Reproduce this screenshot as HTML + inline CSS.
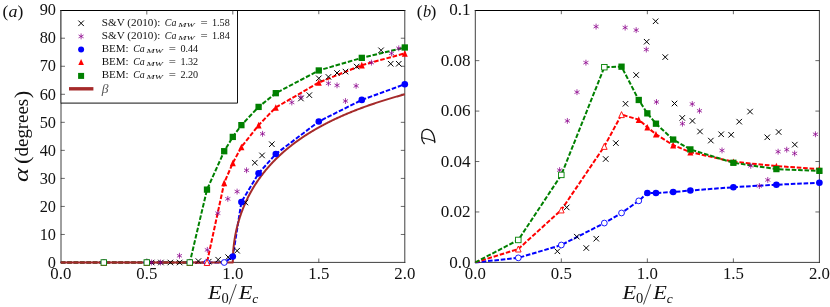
<!DOCTYPE html>
<html><head><meta charset="utf-8"><title>chart</title>
<style>html,body{margin:0;padding:0;background:#fff}body{width:830px;height:307px;overflow:hidden;font-family:"Liberation Serif",serif}</style>
</head><body>
<svg width="830" height="307" viewBox="0 0 830 307" style="display:block;will-change:transform">
<rect width="830" height="307" fill="#fff"/>
<path d="M146.80 262.5v-4M146.80 10.2v4M232.80 262.5v-4M232.80 10.2v4M318.80 262.5v-4M318.80 10.2v4M60.8 234.47h4M404.8 234.47h-4M60.8 206.43h4M404.8 206.43h-4M60.8 178.40h4M404.8 178.40h-4M60.8 150.37h4M404.8 150.37h-4M60.8 122.33h4M404.8 122.33h-4M60.8 94.30h4M404.8 94.30h-4M60.8 66.27h4M404.8 66.27h-4M60.8 38.23h4M404.8 38.23h-4" stroke="#2a2a2a" stroke-width="0.7" fill="none"/>
<path d="M561.33 262.4v-4M561.33 10.2v4M647.35 262.4v-4M647.35 10.2v4M733.38 262.4v-4M733.38 10.2v4M475.3 211.96h4M819.4 211.96h-4M475.3 161.52h4M819.4 161.52h-4M475.3 111.08h4M819.4 111.08h-4M475.3 60.64h4M819.4 60.64h-4" stroke="#2a2a2a" stroke-width="0.7" fill="none"/>
<path d="M60.5 10.5H405.3" stroke="#000" stroke-width="1"/>
<path d="M60.5 262.4H405.3" stroke="#2a2a2a" stroke-width="0.9"/>
<path d="M61.0 10V262.9" stroke="#2a2a2a" stroke-width="0.9"/>
<path d="M404.8 10V262.9" stroke="#2a2a2a" stroke-width="0.9"/>
<path d="M474.8 10.5H819.9" stroke="#000" stroke-width="1"/>
<path d="M474.8 262.4H819.9" stroke="#2a2a2a" stroke-width="0.9"/>
<path d="M475.3 10V262.9" stroke="#2a2a2a" stroke-width="0.9"/>
<path d="M819.4 10V262.9" stroke="#2a2a2a" stroke-width="0.9"/>
<polyline points="60.80,262.50 103.80,262.50 146.80,262.50 189.80,262.50 207.00,262.50 224.20,262.50 232.80,256.61 241.40,201.95 258.60,173.35 275.80,154.01 318.80,121.49 361.80,99.91 404.80,84.21" fill="none" stroke="#0000ff" stroke-width="2.0" stroke-dasharray="4.6 1.8"/>
<polyline points="60.80,262.50 103.80,262.50 146.80,262.50 189.80,262.50 207.00,262.50 224.20,182.89 232.80,162.98 241.40,147.00 258.60,125.14 275.80,107.48 318.80,82.53 361.80,65.15 404.80,53.37" fill="none" stroke="#ff0000" stroke-width="2.0" stroke-dasharray="4.6 1.8"/>
<polyline points="60.80,262.50 103.80,262.50 146.80,262.50 189.80,262.50 207.00,189.61 224.20,151.21 232.80,136.91 241.40,125.14 258.60,106.91 275.80,93.18 318.80,70.47 361.80,57.86 404.80,47.48" fill="none" stroke="#008000" stroke-width="2.0" stroke-dasharray="4.6 1.8"/>
<polyline points="475.30,262.40 518.31,257.86 561.33,245.00 604.34,223.06 621.54,212.97 638.75,200.86 647.35,193.04 655.95,193.04 673.16,192.04 690.36,190.52 733.38,187.24 776.39,184.72 819.40,182.70" fill="none" stroke="#0000ff" stroke-width="2.0" stroke-dasharray="4.6 1.8"/>
<polyline points="475.30,262.40 518.31,249.03 561.33,209.94 604.34,146.39 621.54,114.61 638.75,119.65 647.35,127.22 655.95,134.28 673.16,145.13 690.36,152.19 733.38,161.77 776.39,166.06 819.40,169.09" fill="none" stroke="#ff0000" stroke-width="2.0" stroke-dasharray="4.6 1.8"/>
<polyline points="475.30,262.40 518.31,239.95 561.33,174.89 604.34,67.20 621.54,66.69 638.75,99.98 647.35,113.35 655.95,123.69 673.16,139.58 690.36,149.41 733.38,162.78 776.39,169.09 819.40,170.85" fill="none" stroke="#008000" stroke-width="2.0" stroke-dasharray="4.6 1.8"/>
<polyline points="60.80,262.50 232.80,262.50 232.80,261.93 232.80,261.36 232.81,260.80 232.82,260.23 232.83,259.66 232.84,259.09 232.85,258.53 232.87,257.96 232.89,257.39 232.91,256.82 232.93,256.26 232.95,255.69 232.98,255.12 233.01,254.55 233.04,253.99 233.08,253.42 233.11,252.85 233.15,252.29 233.19,251.72 233.23,251.15 233.27,250.59 233.32,250.02 233.37,249.46 233.42,248.89 233.47,248.33 233.53,247.76 233.58,247.20 233.64,246.63 233.70,246.07 233.77,245.50 233.83,244.94 233.90,244.38 233.97,243.81 234.04,243.25 234.12,242.69 234.19,242.13 234.27,241.56 234.35,241.00 234.44,240.44 234.52,239.88 234.61,239.32 234.70,238.76 234.79,238.20 234.88,237.64 234.98,237.08 235.07,236.52 235.17,235.96 235.28,235.40 235.38,234.85 235.49,234.29 235.60,233.73 235.71,233.18 235.82,232.62 235.93,232.06 236.05,231.51 236.17,230.96 236.29,230.40 236.42,229.85 236.54,229.29 236.67,228.74 236.80,228.19 236.93,227.64 237.07,227.09 237.20,226.54 237.34,225.99 237.48,225.44 237.63,224.89 237.77,224.34 237.92,223.79 238.07,223.25 238.22,222.70 238.37,222.15 238.53,221.61 238.69,221.06 238.85,220.52 239.01,219.98 239.17,219.43 239.34,218.89 239.51,218.35 239.68,217.81 239.85,217.27 240.03,216.73 240.21,216.19 240.39,215.65 240.57,215.11 240.75,214.58 240.94,214.04 241.12,213.50 241.32,212.97 241.51,212.44 241.70,211.90 241.90,211.37 242.10,210.84 242.30,210.31 242.50,209.78 242.71,209.25 242.91,208.72 243.12,208.19 243.34,207.66 243.55,207.13 243.77,206.61 243.98,206.08 244.20,205.56 244.43,205.04 244.65,204.51 244.88,203.99 245.11,203.47 245.34,202.95 245.57,202.43 245.81,201.91 246.05,201.39 246.28,200.88 246.53,200.36 246.77,199.84 247.02,199.33 247.27,198.82 247.52,198.30 247.77,197.79 248.02,197.28 248.28,196.77 248.54,196.26 248.80,195.75 249.06,195.25 249.33,194.74 249.60,194.23 249.87,193.73 250.14,193.23 250.41,192.72 250.69,192.22 250.97,191.72 251.25,191.22 251.53,190.72 251.82,190.22 252.10,189.73 252.39,189.23 252.68,188.73 252.98,188.24 253.27,187.75 253.57,187.25 253.87,186.76 254.17,186.27 254.48,185.78 254.78,185.29 255.09,184.80 255.40,184.32 255.71,183.83 256.03,183.35 256.35,182.86 256.67,182.38 256.99,181.90 257.31,181.42 257.64,180.94 257.96,180.46 258.29,179.98 258.63,179.51 258.96,179.03 259.30,178.56 259.64,178.08 259.98,177.61 260.32,177.14 260.67,176.67 261.01,176.20 261.36,175.73 261.71,175.26 262.07,174.80 262.42,174.33 262.78,173.87 263.14,173.40 263.50,172.94 263.87,172.48 264.23,172.02 264.60,171.56 264.97,171.10 265.35,170.64 265.72,170.19 266.10,169.73 266.48,169.28 266.86,168.83 267.24,168.38 267.63,167.93 268.02,167.48 268.41,167.03 268.80,166.58 269.20,166.13 269.59,165.69 269.99,165.24 270.39,164.80 270.79,164.36 271.20,163.92 271.61,163.48 272.02,163.04 272.43,162.60 272.84,162.17 273.26,161.73 273.68,161.30 274.10,160.86 274.52,160.43 274.94,160.00 275.37,159.57 275.80,159.14 276.23,158.71 276.66,158.29 277.10,157.86 277.54,157.44 277.98,157.01 278.42,156.59 278.86,156.17 279.31,155.75 279.76,155.33 280.21,154.91 280.66,154.50 281.11,154.08 281.57,153.67 282.03,153.25 282.49,152.84 282.96,152.43 283.42,152.02 283.89,151.61 284.36,151.20 284.83,150.79 285.30,150.39 285.78,149.98 286.26,149.58 286.74,149.18 287.22,148.78 287.71,148.38 288.19,147.98 288.68,147.58 289.17,147.18 289.67,146.79 290.16,146.39 290.66,146.00 291.16,145.61 291.66,145.21 292.17,144.82 292.67,144.43 293.18,144.05 293.69,143.66 294.21,143.27 294.72,142.89 295.24,142.50 295.76,142.12 296.28,141.74 296.80,141.36 297.33,140.98 297.85,140.60 298.38,140.22 298.92,139.85 299.45,139.47 299.99,139.10 300.53,138.73 301.07,138.35 301.61,137.98 302.15,137.61 302.70,137.24 303.25,136.88 303.80,136.51 304.36,136.14 304.91,135.78 305.47,135.42 306.03,135.05 306.59,134.69 307.16,134.33 307.72,133.97 308.29,133.62 308.86,133.26 309.44,132.90 310.01,132.55 310.59,132.20 311.17,131.84 311.75,131.49 312.33,131.14 312.92,130.79 313.51,130.44 314.10,130.10 314.69,129.75 315.28,129.40 315.88,129.06 316.48,128.72 317.08,128.38 317.68,128.03 318.29,127.69 318.90,127.36 319.51,127.02 320.12,126.68 320.73,126.34 321.35,126.01 321.96,125.68 322.59,125.34 323.21,125.01 323.83,124.68 324.46,124.35 325.09,124.02 325.72,123.69 326.35,123.37 326.99,123.04 327.62,122.72 328.26,122.39 328.91,122.07 329.55,121.75 330.20,121.43 330.84,121.11 331.49,120.79 332.15,120.47 332.80,120.16 333.46,119.84 334.12,119.53 334.78,119.21 335.44,118.90 336.11,118.59 336.78,118.28 337.44,117.97 338.12,117.66 338.79,117.35 339.47,117.05 340.15,116.74 340.83,116.43 341.51,116.13 342.19,115.83 342.88,115.53 343.57,115.23 344.26,114.93 344.95,114.63 345.65,114.33 346.35,114.03 347.05,113.74 347.75,113.44 348.45,113.15 349.16,112.85 349.87,112.56 350.58,112.27 351.29,111.98 352.01,111.69 352.72,111.40 353.44,111.11 354.16,110.83 354.89,110.54 355.61,110.26 356.34,109.97 357.07,109.69 357.80,109.41 358.54,109.13 359.27,108.84 360.01,108.57 360.75,108.29 361.49,108.01 362.24,107.73 362.99,107.46 363.74,107.18 364.49,106.91 365.24,106.64 366.00,106.36 366.75,106.09 367.51,105.82 368.28,105.55 369.04,105.28 369.81,105.02 370.58,104.75 371.35,104.48 372.12,104.22 372.90,103.95 373.67,103.69 374.45,103.43 375.23,103.17 376.02,102.90 376.80,102.64 377.59,102.39 378.38,102.13 379.17,101.87 379.97,101.61 380.76,101.36 381.56,101.10 382.36,100.85 383.17,100.60 383.97,100.34 384.78,100.09 385.59,99.84 386.40,99.59 387.21,99.34 388.03,99.09 388.85,98.85 389.67,98.60 390.49,98.35 391.32,98.11 392.14,97.87 392.97,97.62 393.80,97.38 394.63,97.14 395.47,96.90 396.31,96.66 397.15,96.42 397.99,96.18 398.83,95.94 399.68,95.70 400.53,95.47 401.38,95.23 402.23,95.00 403.08,94.77 403.94,94.53 404.80,94.30" fill="none" stroke="#a52a2a" stroke-width="2.0" stroke-linejoin="round"/>
<path d="M148.87 259.75L154.37 265.25M148.87 265.25L154.37 259.75" stroke="#000" stroke-width="1.0" fill="none"/>
<path d="M158.15 259.75L163.65 265.25M158.15 265.25L163.65 259.75" stroke="#000" stroke-width="1.0" fill="none"/>
<path d="M167.61 259.75L173.11 265.25M167.61 265.25L173.11 259.75" stroke="#000" stroke-width="1.0" fill="none"/>
<path d="M176.90 259.75L182.40 265.25M176.90 265.25L182.40 259.75" stroke="#000" stroke-width="1.0" fill="none"/>
<path d="M195.65 258.35L201.15 263.85M195.65 263.85L201.15 258.35" stroke="#000" stroke-width="1.0" fill="none"/>
<path d="M205.97 258.91L211.47 264.41M205.97 264.41L211.47 258.91" stroke="#000" stroke-width="1.0" fill="none"/>
<path d="M215.43 256.95L220.93 262.45M215.43 262.45L220.93 256.95" stroke="#000" stroke-width="1.0" fill="none"/>
<path d="M225.41 254.42L230.91 259.92M225.41 259.92L230.91 254.42" stroke="#000" stroke-width="1.0" fill="none"/>
<path d="M234.35 247.98L239.85 253.48M234.35 253.48L239.85 247.98" stroke="#000" stroke-width="1.0" fill="none"/>
<path d="M242.61 199.76L248.11 205.26M242.61 205.26L248.11 199.76" stroke="#000" stroke-width="1.0" fill="none"/>
<path d="M252.07 159.95L257.57 165.45M252.07 165.45L257.57 159.95" stroke="#000" stroke-width="1.0" fill="none"/>
<path d="M259.29 152.66L264.79 158.16M259.29 158.16L264.79 152.66" stroke="#000" stroke-width="1.0" fill="none"/>
<path d="M269.09 141.45L274.59 146.95M269.09 146.95L274.59 141.45" stroke="#000" stroke-width="1.0" fill="none"/>
<path d="M298.16 95.75L303.66 101.25M298.16 101.25L303.66 95.75" stroke="#000" stroke-width="1.0" fill="none"/>
<path d="M306.59 92.39L312.09 97.89M306.59 97.89L312.09 92.39" stroke="#000" stroke-width="1.0" fill="none"/>
<path d="M316.05 75.57L321.55 81.07M316.05 81.07L321.55 75.57" stroke="#000" stroke-width="1.0" fill="none"/>
<path d="M325.68 74.17L331.18 79.67M325.68 79.67L331.18 74.17" stroke="#000" stroke-width="1.0" fill="none"/>
<path d="M334.28 70.24L339.78 75.74M334.28 75.74L339.78 70.24" stroke="#000" stroke-width="1.0" fill="none"/>
<path d="M342.71 68.84L348.21 74.34M342.71 74.34L348.21 68.84" stroke="#000" stroke-width="1.0" fill="none"/>
<path d="M353.89 63.80L359.39 69.30M353.89 69.30L359.39 63.80" stroke="#000" stroke-width="1.0" fill="none"/>
<path d="M378.31 47.54L383.81 53.04M378.31 53.04L383.81 47.54" stroke="#000" stroke-width="1.0" fill="none"/>
<path d="M387.95 60.99L393.45 66.49M387.95 66.49L393.45 60.99" stroke="#000" stroke-width="1.0" fill="none"/>
<path d="M396.03 60.99L401.53 66.49M396.03 66.49L401.53 60.99" stroke="#000" stroke-width="1.0" fill="none"/>
<path d="M151.62 259.55L151.62 265.45M149.06 261.02L154.17 263.98M149.06 263.98L154.17 261.02" stroke="#8b008b" stroke-width="0.75" fill="none"/>
<path d="M160.56 259.55L160.56 265.45M158.01 261.02L163.11 263.98M158.01 263.98L163.11 261.02" stroke="#8b008b" stroke-width="0.75" fill="none"/>
<path d="M179.48 252.82L179.48 258.72M176.93 254.30L182.03 257.25M176.93 257.25L182.03 254.30" stroke="#8b008b" stroke-width="0.75" fill="none"/>
<path d="M207.34 246.94L207.34 252.83M204.79 248.41L209.90 251.36M204.79 251.36L209.90 248.41" stroke="#8b008b" stroke-width="0.75" fill="none"/>
<path d="M217.84 210.21L217.84 216.11M215.28 211.69L220.39 214.64M215.28 214.64L220.39 211.69" stroke="#8b008b" stroke-width="0.75" fill="none"/>
<path d="M227.81 195.91L227.81 201.81M225.26 197.39L230.37 200.34M225.26 200.34L230.37 197.39" stroke="#8b008b" stroke-width="0.75" fill="none"/>
<path d="M237.10 188.63L237.10 194.53M234.55 190.10L239.65 193.05M234.55 193.05L239.65 190.10" stroke="#8b008b" stroke-width="0.75" fill="none"/>
<path d="M246.56 167.32L246.56 173.22M244.01 168.80L249.11 171.75M244.01 171.75L249.11 168.80" stroke="#8b008b" stroke-width="0.75" fill="none"/>
<path d="M262.56 130.88L262.56 136.78M260.00 132.35L265.11 135.30M260.00 135.30L265.11 132.35" stroke="#8b008b" stroke-width="0.75" fill="none"/>
<path d="M291.80 99.48L291.80 105.38M289.24 100.95L294.35 103.90M289.24 103.90L294.35 100.95" stroke="#8b008b" stroke-width="0.75" fill="none"/>
<path d="M300.91 94.15L300.91 100.05M298.36 95.63L303.47 98.58M298.36 98.58L303.47 95.63" stroke="#8b008b" stroke-width="0.75" fill="none"/>
<path d="M328.43 80.42L328.43 86.32M325.88 81.89L330.99 84.84M325.88 84.84L330.99 81.89" stroke="#8b008b" stroke-width="0.75" fill="none"/>
<path d="M337.03 82.38L337.03 88.28M334.48 83.85L339.59 86.80M334.48 86.80L339.59 83.85" stroke="#8b008b" stroke-width="0.75" fill="none"/>
<path d="M345.46 98.08L345.46 103.98M342.91 99.55L348.01 102.50M342.91 102.50L348.01 99.55" stroke="#8b008b" stroke-width="0.75" fill="none"/>
<path d="M356.12 82.94L356.12 88.84M353.57 84.41L358.68 87.36M353.57 87.36L358.68 84.41" stroke="#8b008b" stroke-width="0.75" fill="none"/>
<path d="M371.43 59.67L371.43 65.57M368.88 61.15L373.99 64.10M368.88 64.10L373.99 61.15" stroke="#8b008b" stroke-width="0.75" fill="none"/>
<path d="M391.56 50.42L391.56 56.32M389.00 51.90L394.11 54.85M389.00 54.85L394.11 51.90" stroke="#8b008b" stroke-width="0.75" fill="none"/>
<path d="M398.78 45.38L398.78 51.28M396.23 46.85L401.33 49.80M396.23 49.80L401.33 46.85" stroke="#8b008b" stroke-width="0.75" fill="none"/>
<circle cx="103.80" cy="262.50" r="2.9" fill="#fff" stroke="#0000ff" stroke-width="0.9"/>
<circle cx="146.80" cy="262.50" r="2.9" fill="#fff" stroke="#0000ff" stroke-width="0.9"/>
<circle cx="189.80" cy="262.50" r="2.9" fill="#fff" stroke="#0000ff" stroke-width="0.9"/>
<circle cx="207.00" cy="262.50" r="2.9" fill="#fff" stroke="#0000ff" stroke-width="0.9"/>
<circle cx="224.20" cy="262.50" r="2.9" fill="#fff" stroke="#0000ff" stroke-width="0.9"/>
<circle cx="232.80" cy="256.61" r="3.3" fill="#0000ff"/>
<circle cx="241.40" cy="201.95" r="3.3" fill="#0000ff"/>
<circle cx="258.60" cy="173.35" r="3.3" fill="#0000ff"/>
<circle cx="275.80" cy="154.01" r="3.3" fill="#0000ff"/>
<circle cx="318.80" cy="121.49" r="3.3" fill="#0000ff"/>
<circle cx="361.80" cy="99.91" r="3.3" fill="#0000ff"/>
<circle cx="404.80" cy="84.21" r="3.3" fill="#0000ff"/>
<path d="M103.80 259.50L101.00 265.50L106.60 265.50Z" fill="#fff" stroke="#ff0000" stroke-width="0.9"/>
<path d="M146.80 259.50L144.00 265.50L149.60 265.50Z" fill="#fff" stroke="#ff0000" stroke-width="0.9"/>
<path d="M189.80 259.50L187.00 265.50L192.60 265.50Z" fill="#fff" stroke="#ff0000" stroke-width="0.9"/>
<path d="M207.00 259.50L204.20 265.50L209.80 265.50Z" fill="#fff" stroke="#ff0000" stroke-width="0.9"/>
<path d="M224.20 179.59L221.20 186.19L227.20 186.19Z" fill="#ff0000"/>
<path d="M232.80 159.68L229.80 166.28L235.80 166.28Z" fill="#ff0000"/>
<path d="M241.40 143.70L238.40 150.30L244.40 150.30Z" fill="#ff0000"/>
<path d="M258.60 121.84L255.60 128.44L261.60 128.44Z" fill="#ff0000"/>
<path d="M275.80 104.18L272.80 110.78L278.80 110.78Z" fill="#ff0000"/>
<path d="M318.80 79.23L315.80 85.83L321.80 85.83Z" fill="#ff0000"/>
<path d="M361.80 61.85L358.80 68.45L364.80 68.45Z" fill="#ff0000"/>
<path d="M404.80 50.07L401.80 56.67L407.80 56.67Z" fill="#ff0000"/>
<rect x="101.05" y="259.75" width="5.5" height="5.5" fill="#fff" stroke="#008000" stroke-width="0.9"/>
<rect x="144.05" y="259.75" width="5.5" height="5.5" fill="#fff" stroke="#008000" stroke-width="0.9"/>
<rect x="187.05" y="259.75" width="5.5" height="5.5" fill="#fff" stroke="#008000" stroke-width="0.9"/>
<rect x="203.85" y="186.46" width="6.3" height="6.3" fill="#008000"/>
<rect x="221.05" y="148.06" width="6.3" height="6.3" fill="#008000"/>
<rect x="229.65" y="133.76" width="6.3" height="6.3" fill="#008000"/>
<rect x="238.25" y="121.99" width="6.3" height="6.3" fill="#008000"/>
<rect x="255.45" y="103.76" width="6.3" height="6.3" fill="#008000"/>
<rect x="272.65" y="90.03" width="6.3" height="6.3" fill="#008000"/>
<rect x="315.65" y="67.32" width="6.3" height="6.3" fill="#008000"/>
<rect x="358.65" y="54.71" width="6.3" height="6.3" fill="#008000"/>
<rect x="401.65" y="44.33" width="6.3" height="6.3" fill="#008000"/>
<path d="M554.62 248.55L560.12 254.05M554.62 254.05L560.12 248.55" stroke="#000" stroke-width="1.0" fill="none"/>
<path d="M563.91 204.67L569.41 210.17M563.91 210.17L569.41 204.67" stroke="#000" stroke-width="1.0" fill="none"/>
<path d="M574.06 233.93L579.56 239.43M574.06 239.43L579.56 233.93" stroke="#000" stroke-width="1.0" fill="none"/>
<path d="M583.52 245.27L589.02 250.77M583.52 250.77L589.02 245.27" stroke="#000" stroke-width="1.0" fill="none"/>
<path d="M593.50 235.94L599.00 241.44M593.50 241.44L599.00 235.94" stroke="#000" stroke-width="1.0" fill="none"/>
<path d="M602.96 156.25L608.46 161.75M602.96 161.75L608.46 156.25" stroke="#000" stroke-width="1.0" fill="none"/>
<path d="M613.11 140.36L618.61 145.86M613.11 145.86L618.61 140.36" stroke="#000" stroke-width="1.0" fill="none"/>
<path d="M622.75 101.02L628.25 106.52M622.75 106.52L628.25 101.02" stroke="#000" stroke-width="1.0" fill="none"/>
<path d="M633.42 72.27L638.92 77.77M633.42 77.77L638.92 72.27" stroke="#000" stroke-width="1.0" fill="none"/>
<path d="M643.91 38.97L649.41 44.47M643.91 44.47L649.41 38.97" stroke="#000" stroke-width="1.0" fill="none"/>
<path d="M652.86 18.55L658.36 24.05M652.86 24.05L658.36 18.55" stroke="#000" stroke-width="1.0" fill="none"/>
<path d="M662.49 54.36L667.99 59.86M662.49 59.86L667.99 54.36" stroke="#000" stroke-width="1.0" fill="none"/>
<path d="M671.78 100.76L677.28 106.26M671.78 106.26L677.28 100.76" stroke="#000" stroke-width="1.0" fill="none"/>
<path d="M679.53 115.14L685.03 120.64M679.53 120.64L685.03 115.14" stroke="#000" stroke-width="1.0" fill="none"/>
<path d="M689.68 118.17L695.18 123.67M689.68 123.67L695.18 118.17" stroke="#000" stroke-width="1.0" fill="none"/>
<path d="M697.25 128.76L702.75 134.26M697.25 134.26L702.75 128.76" stroke="#000" stroke-width="1.0" fill="none"/>
<path d="M708.09 137.84L713.59 143.34M708.09 143.34L713.59 137.84" stroke="#000" stroke-width="1.0" fill="none"/>
<path d="M718.41 131.53L723.91 137.03M718.41 137.03L723.91 131.53" stroke="#000" stroke-width="1.0" fill="none"/>
<path d="M728.39 132.04L733.89 137.54M728.39 137.54L733.89 132.04" stroke="#000" stroke-width="1.0" fill="none"/>
<path d="M736.47 118.92L741.97 124.42M736.47 124.42L741.97 118.92" stroke="#000" stroke-width="1.0" fill="none"/>
<path d="M747.31 108.83L752.81 114.33M747.31 114.33L752.81 108.83" stroke="#000" stroke-width="1.0" fill="none"/>
<path d="M764.52 134.56L770.02 140.06M764.52 140.06L770.02 134.56" stroke="#000" stroke-width="1.0" fill="none"/>
<path d="M775.87 129.26L781.37 134.76M775.87 134.76L781.37 129.26" stroke="#000" stroke-width="1.0" fill="none"/>
<path d="M792.05 141.87L797.55 147.37M792.05 147.37L797.55 141.87" stroke="#000" stroke-width="1.0" fill="none"/>
<path d="M559.60 167.14L559.60 173.04M557.05 168.62L562.16 171.57M557.05 171.57L562.16 168.62" stroke="#8b008b" stroke-width="0.75" fill="none"/>
<path d="M567.35 117.97L567.35 123.87M564.79 119.44L569.90 122.39M564.79 122.39L569.90 119.44" stroke="#8b008b" stroke-width="0.75" fill="none"/>
<path d="M576.98 89.21L576.98 95.11M574.43 90.69L579.54 93.64M574.43 93.64L579.54 90.69" stroke="#8b008b" stroke-width="0.75" fill="none"/>
<path d="M585.93 59.71L585.93 65.61M583.37 61.18L588.48 64.13M583.37 64.13L588.48 61.18" stroke="#8b008b" stroke-width="0.75" fill="none"/>
<path d="M596.08 23.64L596.08 29.54M593.52 25.12L598.63 28.07M593.52 28.07L598.63 25.12" stroke="#8b008b" stroke-width="0.75" fill="none"/>
<path d="M625.16 24.65L625.16 30.55M622.60 26.13L627.71 29.08M622.60 29.08L627.71 26.13" stroke="#8b008b" stroke-width="0.75" fill="none"/>
<path d="M636.17 27.17L636.17 33.07M633.61 28.65L638.72 31.60M633.61 31.60L638.72 28.65" stroke="#8b008b" stroke-width="0.75" fill="none"/>
<path d="M646.32 46.59L646.32 52.49M643.76 48.07L648.87 51.02M643.76 51.02L648.87 48.07" stroke="#8b008b" stroke-width="0.75" fill="none"/>
<path d="M656.47 99.05L656.47 104.95M653.91 100.53L659.02 103.48M653.91 103.48L659.02 100.53" stroke="#8b008b" stroke-width="0.75" fill="none"/>
<path d="M682.45 120.74L682.45 126.64M679.89 122.22L685.00 125.16M679.89 125.16L685.00 122.22" stroke="#8b008b" stroke-width="0.75" fill="none"/>
<path d="M692.26 101.07L692.26 106.97M689.70 102.54L694.81 105.49M689.70 105.49L694.81 102.54" stroke="#8b008b" stroke-width="0.75" fill="none"/>
<path d="M699.48 107.88L699.48 113.78M696.93 109.35L702.04 112.30M696.93 112.30L702.04 109.35" stroke="#8b008b" stroke-width="0.75" fill="none"/>
<path d="M722.02 147.47L722.02 153.37M719.46 148.95L724.57 151.90M719.46 151.90L724.57 148.95" stroke="#8b008b" stroke-width="0.75" fill="none"/>
<path d="M750.75 162.86L750.75 168.76M748.20 164.33L753.31 167.28M748.20 167.28L753.31 164.33" stroke="#8b008b" stroke-width="0.75" fill="none"/>
<path d="M759.35 183.03L759.35 188.93M756.80 184.51L761.91 187.46M756.80 187.46L761.91 184.51" stroke="#8b008b" stroke-width="0.75" fill="none"/>
<path d="M767.78 176.98L767.78 182.88M765.23 178.46L770.34 181.41M765.23 181.41L770.34 178.46" stroke="#8b008b" stroke-width="0.75" fill="none"/>
<path d="M778.11 148.73L778.11 154.63M775.55 150.21L780.66 153.16M775.55 153.16L780.66 150.21" stroke="#8b008b" stroke-width="0.75" fill="none"/>
<path d="M786.71 146.72L786.71 152.62M784.16 148.19L789.27 151.14M784.16 151.14L789.27 148.19" stroke="#8b008b" stroke-width="0.75" fill="none"/>
<path d="M794.62 150.50L794.62 156.40M792.07 151.97L797.18 154.92M792.07 154.92L797.18 151.97" stroke="#8b008b" stroke-width="0.75" fill="none"/>
<path d="M815.44 131.33L815.44 137.23M812.89 132.81L818.00 135.76M812.89 135.76L818.00 132.81" stroke="#8b008b" stroke-width="0.75" fill="none"/>
<circle cx="518.31" cy="257.86" r="2.9" fill="#fff" stroke="#0000ff" stroke-width="0.9"/>
<circle cx="561.33" cy="245.00" r="2.9" fill="#fff" stroke="#0000ff" stroke-width="0.9"/>
<circle cx="604.34" cy="223.06" r="2.9" fill="#fff" stroke="#0000ff" stroke-width="0.9"/>
<circle cx="621.54" cy="212.97" r="2.9" fill="#fff" stroke="#0000ff" stroke-width="0.9"/>
<circle cx="638.75" cy="200.86" r="2.9" fill="#fff" stroke="#0000ff" stroke-width="0.9"/>
<circle cx="647.35" cy="193.04" r="3.3" fill="#0000ff"/>
<circle cx="655.95" cy="193.04" r="3.3" fill="#0000ff"/>
<circle cx="673.16" cy="192.04" r="3.3" fill="#0000ff"/>
<circle cx="690.36" cy="190.52" r="3.3" fill="#0000ff"/>
<circle cx="733.38" cy="187.24" r="3.3" fill="#0000ff"/>
<circle cx="776.39" cy="184.72" r="3.3" fill="#0000ff"/>
<circle cx="819.40" cy="182.70" r="3.3" fill="#0000ff"/>
<path d="M518.31 246.03L515.51 252.03L521.11 252.03Z" fill="#fff" stroke="#ff0000" stroke-width="0.9"/>
<path d="M561.33 206.94L558.53 212.94L564.12 212.94Z" fill="#fff" stroke="#ff0000" stroke-width="0.9"/>
<path d="M604.34 143.39L601.54 149.39L607.14 149.39Z" fill="#fff" stroke="#ff0000" stroke-width="0.9"/>
<path d="M621.54 111.61L618.74 117.61L624.34 117.61Z" fill="#fff" stroke="#ff0000" stroke-width="0.9"/>
<path d="M638.75 116.35L635.75 122.95L641.75 122.95Z" fill="#ff0000"/>
<path d="M647.35 123.92L644.35 130.52L650.35 130.52Z" fill="#ff0000"/>
<path d="M655.95 130.98L652.95 137.58L658.95 137.58Z" fill="#ff0000"/>
<path d="M673.16 141.83L670.16 148.43L676.16 148.43Z" fill="#ff0000"/>
<path d="M690.36 148.89L687.36 155.49L693.36 155.49Z" fill="#ff0000"/>
<path d="M733.38 158.47L730.38 165.07L736.38 165.07Z" fill="#ff0000"/>
<path d="M776.39 162.76L773.39 169.36L779.39 169.36Z" fill="#ff0000"/>
<path d="M819.40 165.79L816.40 172.39L822.40 172.39Z" fill="#ff0000"/>
<rect x="515.56" y="237.20" width="5.5" height="5.5" fill="#fff" stroke="#008000" stroke-width="0.9"/>
<rect x="558.58" y="172.14" width="5.5" height="5.5" fill="#fff" stroke="#008000" stroke-width="0.9"/>
<rect x="601.59" y="64.45" width="5.5" height="5.5" fill="#fff" stroke="#008000" stroke-width="0.9"/>
<rect x="618.39" y="63.54" width="6.3" height="6.3" fill="#008000"/>
<rect x="635.60" y="96.83" width="6.3" height="6.3" fill="#008000"/>
<rect x="644.20" y="110.20" width="6.3" height="6.3" fill="#008000"/>
<rect x="652.80" y="120.54" width="6.3" height="6.3" fill="#008000"/>
<rect x="670.01" y="136.43" width="6.3" height="6.3" fill="#008000"/>
<rect x="687.21" y="146.26" width="6.3" height="6.3" fill="#008000"/>
<rect x="730.23" y="159.63" width="6.3" height="6.3" fill="#008000"/>
<rect x="773.24" y="165.94" width="6.3" height="6.3" fill="#008000"/>
<rect x="816.25" y="167.70" width="6.3" height="6.3" fill="#008000"/>
<rect x="61.0" y="10.5" width="176.5" height="92.6" fill="#fff"/>
<path d="M61.0 103.1H237.5V10.5" fill="none" stroke="#111" stroke-width="1"/>
<path d="M60.5 10.5H238.0" stroke="#000" stroke-width="1"/>
<path d="M61.0 10V103.6" stroke="#2a2a2a" stroke-width="0.9"/>
<path d="M61 94.30h4M61 66.27h4M61 38.23h4M146.80 10.5v4M232.80 10.5v4" stroke="#2a2a2a" stroke-width="0.7" fill="none"/>
<path d="M78.35 20.55L83.85 26.05M78.35 26.05L83.85 20.55" stroke="#000" stroke-width="1.0" fill="none"/>
<path d="M81.10 33.45L81.10 39.35M78.55 34.92L83.65 37.88M78.55 37.88L83.65 34.92" stroke="#8b008b" stroke-width="0.75" fill="none"/>
<circle cx="81.10" cy="49.40" r="3.0" fill="#0000ff"/>
<path d="M81.10 58.90L78.30 64.90L83.90 64.90Z" fill="#ff0000"/>
<rect x="78.10" y="72.90" width="6.0" height="6.0" fill="#008000"/>
<path d="M69 88.8H93.4" stroke="#a52a2a" stroke-width="3.4"/>
<text transform="translate(101.70,26.00) scale(1.0371,1.0)" font-family="Liberation Serif, serif" font-size="10.8" fill="#111">S&amp;V (2010):</text><text transform="translate(164.80,26.00) scale(0.9203,1.0)" font-family="Liberation Serif, serif" font-size="10.8" font-style="italic" fill="#111">Ca</text><text transform="translate(178.20,27.00) scale(1.4476,1.0)" font-family="Liberation Serif, serif" font-size="6.8" font-style="italic" fill="#111">MW</text><text transform="translate(200.40,26.00) scale(1.1821,1.0)" font-family="Liberation Serif, serif" font-size="10.8" fill="#111">=</text><text transform="translate(212.00,26.00) scale(0.9418,1.0)" font-family="Liberation Serif, serif" font-size="10.8" fill="#111">1.58</text>
<text transform="translate(101.70,39.10) scale(1.0371,1.0)" font-family="Liberation Serif, serif" font-size="10.8" fill="#111">S&amp;V (2010):</text><text transform="translate(164.80,39.10) scale(0.9203,1.0)" font-family="Liberation Serif, serif" font-size="10.8" font-style="italic" fill="#111">Ca</text><text transform="translate(178.20,40.10) scale(1.4476,1.0)" font-family="Liberation Serif, serif" font-size="6.8" font-style="italic" fill="#111">MW</text><text transform="translate(200.40,39.10) scale(1.1821,1.0)" font-family="Liberation Serif, serif" font-size="10.8" fill="#111">=</text><text transform="translate(212.00,39.10) scale(0.9418,1.0)" font-family="Liberation Serif, serif" font-size="10.8" fill="#111">1.84</text>
<text transform="translate(101.70,52.10) scale(1.0226,1.0)" font-family="Liberation Serif, serif" font-size="10.8" fill="#111">BEM:</text><text transform="translate(133.20,52.10) scale(0.9203,1.0)" font-family="Liberation Serif, serif" font-size="10.8" font-style="italic" fill="#111">Ca</text><text transform="translate(146.60,53.10) scale(1.4476,1.0)" font-family="Liberation Serif, serif" font-size="6.8" font-style="italic" fill="#111">MW</text><text transform="translate(168.80,52.10) scale(1.1821,1.0)" font-family="Liberation Serif, serif" font-size="10.8" fill="#111">=</text><text transform="translate(180.40,52.10) scale(0.9418,1.0)" font-family="Liberation Serif, serif" font-size="10.8" fill="#111">0.44</text>
<text transform="translate(101.70,65.20) scale(1.0226,1.0)" font-family="Liberation Serif, serif" font-size="10.8" fill="#111">BEM:</text><text transform="translate(133.20,65.20) scale(0.9203,1.0)" font-family="Liberation Serif, serif" font-size="10.8" font-style="italic" fill="#111">Ca</text><text transform="translate(146.60,66.20) scale(1.4476,1.0)" font-family="Liberation Serif, serif" font-size="6.8" font-style="italic" fill="#111">MW</text><text transform="translate(168.80,65.20) scale(1.1821,1.0)" font-family="Liberation Serif, serif" font-size="10.8" fill="#111">=</text><text transform="translate(180.40,65.20) scale(0.9418,1.0)" font-family="Liberation Serif, serif" font-size="10.8" fill="#111">1.32</text>
<text transform="translate(101.70,78.20) scale(1.0226,1.0)" font-family="Liberation Serif, serif" font-size="10.8" fill="#111">BEM:</text><text transform="translate(133.20,78.20) scale(0.9203,1.0)" font-family="Liberation Serif, serif" font-size="10.8" font-style="italic" fill="#111">Ca</text><text transform="translate(146.60,79.20) scale(1.4476,1.0)" font-family="Liberation Serif, serif" font-size="6.8" font-style="italic" fill="#111">MW</text><text transform="translate(168.80,78.20) scale(1.1821,1.0)" font-family="Liberation Serif, serif" font-size="10.8" fill="#111">=</text><text transform="translate(180.40,78.20) scale(0.9418,1.0)" font-family="Liberation Serif, serif" font-size="10.8" fill="#111">2.20</text>
<text x="101.8" y="93.1" font-family="Liberation Serif, serif" font-size="13.5" font-style="italic" fill="#555">β</text>
<text transform="translate(60.80,278.60) scale(1.05,1)" font-family="Liberation Serif, serif" font-size="16" text-anchor="middle" fill="#111">0.0</text>
<text transform="translate(146.80,278.60) scale(1.05,1)" font-family="Liberation Serif, serif" font-size="16" text-anchor="middle" fill="#111">0.5</text>
<text transform="translate(232.80,278.60) scale(1.05,1)" font-family="Liberation Serif, serif" font-size="16" text-anchor="middle" fill="#111">1.0</text>
<text transform="translate(318.80,278.60) scale(1.05,1)" font-family="Liberation Serif, serif" font-size="16" text-anchor="middle" fill="#111">1.5</text>
<text transform="translate(404.80,278.60) scale(1.05,1)" font-family="Liberation Serif, serif" font-size="16" text-anchor="middle" fill="#111">2.0</text>
<text transform="translate(475.30,278.60) scale(1.05,1)" font-family="Liberation Serif, serif" font-size="16" text-anchor="middle" fill="#111">0.0</text>
<text transform="translate(561.33,278.60) scale(1.05,1)" font-family="Liberation Serif, serif" font-size="16" text-anchor="middle" fill="#111">0.5</text>
<text transform="translate(647.35,278.60) scale(1.05,1)" font-family="Liberation Serif, serif" font-size="16" text-anchor="middle" fill="#111">1.0</text>
<text transform="translate(733.38,278.60) scale(1.05,1)" font-family="Liberation Serif, serif" font-size="16" text-anchor="middle" fill="#111">1.5</text>
<text transform="translate(819.40,278.60) scale(1.05,1)" font-family="Liberation Serif, serif" font-size="16" text-anchor="middle" fill="#111">2.0</text>
<text transform="translate(56.00,267.70) scale(1.02,1)" font-family="Liberation Serif, serif" font-size="16" text-anchor="end" fill="#111">0</text>
<text transform="translate(56.00,239.67) scale(1.02,1)" font-family="Liberation Serif, serif" font-size="16" text-anchor="end" fill="#111">10</text>
<text transform="translate(56.00,211.63) scale(1.02,1)" font-family="Liberation Serif, serif" font-size="16" text-anchor="end" fill="#111">20</text>
<text transform="translate(56.00,183.60) scale(1.02,1)" font-family="Liberation Serif, serif" font-size="16" text-anchor="end" fill="#111">30</text>
<text transform="translate(56.00,155.57) scale(1.02,1)" font-family="Liberation Serif, serif" font-size="16" text-anchor="end" fill="#111">40</text>
<text transform="translate(56.00,127.53) scale(1.02,1)" font-family="Liberation Serif, serif" font-size="16" text-anchor="end" fill="#111">50</text>
<text transform="translate(56.00,99.50) scale(1.02,1)" font-family="Liberation Serif, serif" font-size="16" text-anchor="end" fill="#111">60</text>
<text transform="translate(56.00,71.47) scale(1.02,1)" font-family="Liberation Serif, serif" font-size="16" text-anchor="end" fill="#111">70</text>
<text transform="translate(56.00,43.43) scale(1.02,1)" font-family="Liberation Serif, serif" font-size="16" text-anchor="end" fill="#111">80</text>
<text transform="translate(56.00,15.40) scale(1.02,1)" font-family="Liberation Serif, serif" font-size="16" text-anchor="end" fill="#111">90</text>
<text transform="translate(470.60,267.60) scale(1.07,1)" font-family="Liberation Serif, serif" font-size="16" text-anchor="end" fill="#111">0.0</text>
<text transform="translate(470.60,217.16) scale(1.07,1)" font-family="Liberation Serif, serif" font-size="16" text-anchor="end" fill="#111">0.02</text>
<text transform="translate(470.60,166.72) scale(1.07,1)" font-family="Liberation Serif, serif" font-size="16" text-anchor="end" fill="#111">0.04</text>
<text transform="translate(470.60,116.28) scale(1.07,1)" font-family="Liberation Serif, serif" font-size="16" text-anchor="end" fill="#111">0.06</text>
<text transform="translate(470.60,65.84) scale(1.07,1)" font-family="Liberation Serif, serif" font-size="16" text-anchor="end" fill="#111">0.08</text>
<text transform="translate(470.60,15.40) scale(1.07,1)" font-family="Liberation Serif, serif" font-size="16" text-anchor="end" fill="#111">0.1</text>
<text x="208.0" y="299.4" font-family="Liberation Serif, serif" font-size="19.6" font-style="italic" fill="#111" textLength="13.6" lengthAdjust="spacingAndGlyphs">E</text><text x="221.4" y="303.3" font-family="Liberation Serif, serif" font-size="14.5" fill="#111">0</text><path d="M236.3 284.2L229.0 304.4" stroke="#111" stroke-width="0.8"/><text x="238.8" y="299.4" font-family="Liberation Serif, serif" font-size="19.6" font-style="italic" fill="#111" textLength="13.6" lengthAdjust="spacingAndGlyphs">E</text><text x="252.3" y="303.2" font-family="Liberation Serif, serif" font-size="13.5" font-style="italic" fill="#111">c</text>
<text x="622.5" y="299.4" font-family="Liberation Serif, serif" font-size="19.6" font-style="italic" fill="#111" textLength="13.6" lengthAdjust="spacingAndGlyphs">E</text><text x="635.9" y="303.3" font-family="Liberation Serif, serif" font-size="14.5" fill="#111">0</text><path d="M650.8 284.2L643.5 304.4" stroke="#111" stroke-width="0.8"/><text x="653.3" y="299.4" font-family="Liberation Serif, serif" font-size="19.6" font-style="italic" fill="#111" textLength="13.6" lengthAdjust="spacingAndGlyphs">E</text><text x="666.8" y="303.2" font-family="Liberation Serif, serif" font-size="13.5" font-style="italic" fill="#111">c</text>
<g transform="translate(28.0,181.6) rotate(-90)"><text transform="translate(-0.30,0.00) scale(1.3335,1.0)" font-family="Liberation Serif, serif" font-size="20" font-style="italic" fill="#111">α</text><text transform="translate(17.60,0.60) scale(1.0373,1.0)" font-family="Liberation Serif, serif" font-size="22" fill="#111">(</text><text transform="translate(25.20,0.00) scale(0.9673,1.0)" font-family="Liberation Serif, serif" font-size="19.5" fill="#111">degrees</text><text transform="translate(83.40,0.60) scale(1.0373,1.0)" font-family="Liberation Serif, serif" font-size="22" fill="#111">)</text></g>
<path d="M424.3 143.7C422.8 142.3 421.8 140.5 421.8 138.0C421.6 135 421.8 133 422.4 131.8C423.5 129.8 425.5 129.2 427.3 129.4C430.5 129.8 432.8 132.8 433.8 136C434.5 138.3 434.8 140.5 434.8 142.5" fill="none" stroke="#111" stroke-width="1.25" stroke-linecap="round"/>
<path d="M434.8 141.2C431 139.8 426 138.6 421.8 137.8" fill="none" stroke="#111" stroke-width="1.15" stroke-linecap="round"/>
<text transform="translate(2.60,16.90) scale(1.0000,1.0)" font-family="Liberation Serif, serif" font-size="17.5" fill="#111">(</text><text transform="translate(8.60,16.90) scale(1.0286,1.0)" font-family="Liberation Serif, serif" font-size="17.5" font-style="italic" fill="#111">a</text><text transform="translate(17.40,16.90) scale(1.0000,1.0)" font-family="Liberation Serif, serif" font-size="17.5" fill="#111">)</text>
<text transform="translate(416.80,16.90) scale(1.0000,1.0)" font-family="Liberation Serif, serif" font-size="17.5" fill="#111">(</text><text transform="translate(423.00,16.90) scale(0.9371,1.0)" font-family="Liberation Serif, serif" font-size="17.5" font-style="italic" fill="#111">b</text><text transform="translate(430.60,16.90) scale(1.0000,1.0)" font-family="Liberation Serif, serif" font-size="17.5" fill="#111">)</text>
</svg>
</body></html>
